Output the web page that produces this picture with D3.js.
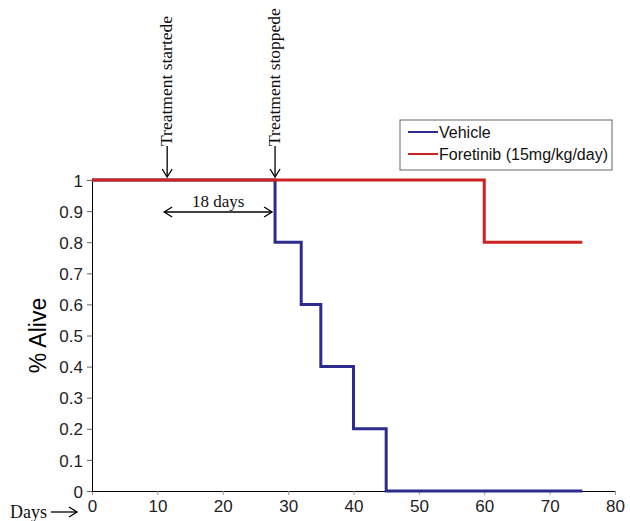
<!DOCTYPE html>
<html>
<head>
<meta charset="utf-8">
<script src="https://cdn.jsdelivr.net/npm/d3@7"></script>
<style>
  body { margin: 0; background: #fff; }
  svg { display: block; }
  .tick text { font-family: "Liberation Sans", Arial, sans-serif; font-size: 17px; fill: #222; }
  .serif { font-family: "Liberation Serif", "Times New Roman", serif; fill: #111; }
</style>
</head>
<body>
<svg width="630" height="521"></svg>
<script>
// survival steps: [day, fraction alive]
var vehicle = [[0, 1], [28, 1], [28, 0.8], [32, 0.8], [32, 0.6], [35, 0.6], [35, 0.4],
               [40, 0.4], [40, 0.2], [45, 0.2], [45, 0], [75, 0]];
var foretinib = [[0, 1], [60, 1], [60, 0.8], [75, 0.8]];
var seriesNames = ["Vehicle", "Foretinib (15mg/kg/day)"];
var seriesColors = ["#2e2b8f", "#cc2222"];
var xTicks = [0, 10, 20, 30, 40, 50, 60, 70, 80];
var yTicks = [0, 0.1, 0.2, 0.3, 0.4, 0.5, 0.6, 0.7, 0.8, 0.9, 1];
var treatStart = 11.5, treatStop = 28;

var svg = d3.select("svg"),
    margin = {top: 180, right: 15, bottom: 30, left: 92},
    width = +svg.attr("width") - margin.left - margin.right,
    height = +svg.attr("height") - margin.top - margin.bottom;

var x = d3.scaleLinear().domain([0, 80]).range([0, width]);
var y = d3.scaleLinear().domain([0, 1]).range([height, 0]);

var g = svg.append("g")
    .attr("transform", "translate(" + margin.left + "," + margin.top + ")");

g.append("g")
    .attr("transform", "translate(0," + height + ")")
    .call(d3.axisBottom(x).tickValues(xTicks).tickSize(4).tickPadding(5))
    .call(function(a) {
      a.select(".domain").attr("stroke", "#000");
      a.selectAll(".tick line").attr("stroke", "#999");
    });

g.append("g")
    .call(d3.axisLeft(y).tickValues(yTicks).tickSize(5).tickPadding(4)
      .tickFormat(function(d) { return d === 0 || d === 1 ? d : d3.format(".1f")(d); }))
    .call(function(a) {
      a.select(".domain").attr("stroke", "#000");
      a.selectAll(".tick line").attr("stroke", "#666");
      a.selectAll(".tick text").attr("dy", "0.36em");
    });

var line = d3.line()
    .x(function(d) { return x(d[0]); })
    .y(function(d) { return y(d[1]); });

[vehicle, foretinib].forEach(function(s, i) {
  g.append("path")
      .datum(s)
      .attr("fill", "none")
      .attr("stroke", seriesColors[i])
      .attr("stroke-width", 3)
      .attr("d", line);
});

// y label
svg.append("text")
    .attr("transform", "translate(46," + (margin.top + height / 2) + ") rotate(-90)")
    .attr("text-anchor", "middle")
    .style("font-family", "Liberation Sans, Arial, sans-serif")
    .style("font-size", "23px")
    .text("% Alive");

// Days arrow label
svg.append("text").attr("class", "serif")
    .attr("x", 10).attr("y", 518)
    .style("font-size", "18px")
    .text("Days");

function arrowHead(sel, px, py, dir) {
  // dir: "down", "right", "left"
  var pts;
  if (dir === "down") pts = [[px - 5, py - 8], [px, py], [px + 5, py - 8]];
  else if (dir === "right") pts = [[px - 8, py - 5], [px, py], [px - 8, py + 5]];
  else pts = [[px + 8, py - 5], [px, py], [px + 8, py + 5]];
  sel.append("path")
      .attr("d", d3.line()(pts))
      .attr("fill", "none")
      .attr("stroke", "#000")
      .attr("stroke-width", 1.3);
}

svg.append("line")
    .attr("x1", 51).attr("x2", 77).attr("y1", 512).attr("y2", 512)
    .attr("stroke", "#000").attr("stroke-width", 1.3);
arrowHead(svg, 77, 512, "right");

// treatment annotations
[[treatStart, "Treatment startede"], [treatStop, "Treatment stoppede"]].forEach(function(t) {
  var px = margin.left + x(t[0]);
  svg.append("text").attr("class", "serif")
      .attr("transform", "translate(" + (px + 5) + ",146) rotate(-90)")
      .style("font-size", "17.5px")
      .text(t[1]);
  svg.append("line")
      .attr("x1", px).attr("x2", px).attr("y1", 146).attr("y2", 177)
      .attr("stroke", "#000").attr("stroke-width", 1.3);
  arrowHead(svg, px, 177, "down");
});

var ay = 212,
    ax1 = margin.left + x(treatStart) - 3,
    ax2 = margin.left + x(treatStop) - 3;
svg.append("line")
    .attr("x1", ax1).attr("x2", ax2).attr("y1", ay).attr("y2", ay)
    .attr("stroke", "#000").attr("stroke-width", 1.3);
arrowHead(svg, ax1, ay, "left");
arrowHead(svg, ax2, ay, "right");
svg.append("text").attr("class", "serif")
    .attr("x", (ax1 + ax2) / 2).attr("y", 207)
    .attr("text-anchor", "middle")
    .style("font-size", "17px")
    .text("18 days");

// legend
var lg = svg.append("g").attr("transform", "translate(400,120)");
lg.append("rect")
    .attr("width", 212).attr("height", 50)
    .attr("fill", "#fff").attr("stroke", "#666").attr("stroke-width", 1);
seriesNames.forEach(function(name, i) {
  var ly = 12 + i * 22;
  lg.append("line")
      .attr("x1", 8).attr("x2", 38).attr("y1", ly).attr("y2", ly)
      .attr("stroke", seriesColors[i]).attr("stroke-width", 2);
  lg.append("text")
      .attr("x", 39).attr("y", ly).attr("dy", "0.36em")
      .style("font-family", "Liberation Sans, Arial, sans-serif")
      .style("font-size", "16px")
      .attr("fill", "#111")
      .text(name);
});
</script>
</body>
</html>
